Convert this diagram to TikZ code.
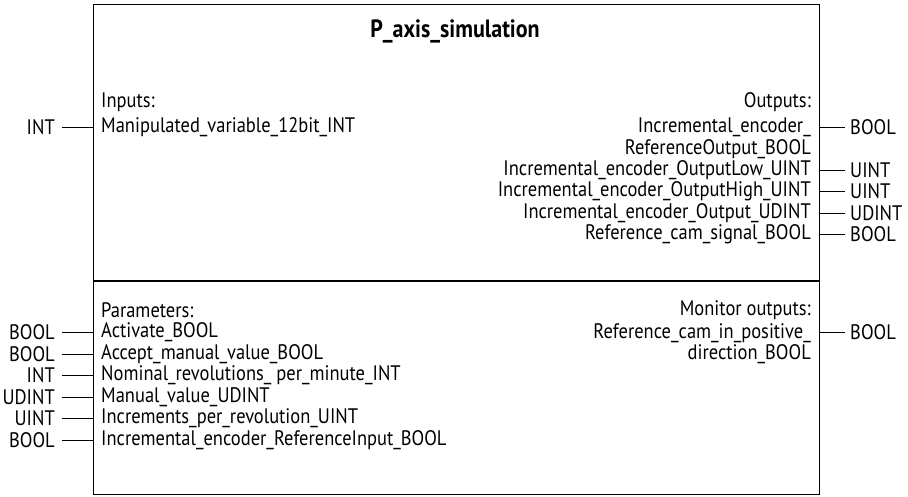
\documentclass[tikz,border=0pt]{standalone}
\usepackage{fontspec}
\setmainfont[FakeStretch=0.88]{PT Sans}
\begin{document}
\begin{tikzpicture}[x=1pt,y=-1pt,
  every node/.style={font=\fontsize{21}{21.5}\selectfont, inner sep=0pt},
  lbl/.style={anchor=west, align=left},
  rlbl/.style={anchor=east, align=right},
  stub/.style={line width=0.9pt},
  boxline/.style={line width=1.1pt}]
\useasboundingbox (0,0) rectangle (908,496);
% box
\draw[boxline] (93.5,4.3) rectangle (819.5,494.3);
\draw[boxline] (93.5,281) -- (819.5,281);
\node[font=\fontsize{25}{28}\selectfont\bfseries] (title) at (455,31) {P\_axis\_simulation};
% top section
\node[lbl] (inputs) at (101,102) {Inputs:};
\node[lbl] (in1) at (101,127) {Manipulated\_variable\_12bit\_INT};
\node[rlbl] (outputs) at (811,102) {Outputs:};
\node[rlbl, anchor=north east] (o1) at (811,118) {Incremental\_encoder\_\\ReferenceOutput\_BOOL};
\node[rlbl] (o2) at (811,170) {Incremental\_encoder\_OutputLow\_UINT};
\node[rlbl] (o3) at (811,191.5) {Incremental\_encoder\_OutputHigh\_UINT};
\node[rlbl] (o4) at (811,213) {Incremental\_encoder\_Output\_UDINT};
\node[rlbl] (o5) at (811,234.5) {Reference\_cam\_signal\_BOOL};
% bottom section
\node[lbl] (params) at (101,310) {Parameters:};
\node[lbl] (p1) at (101,332.5) {Activate\_BOOL};
\node[lbl] (p2) at (101,354) {Accept\_manual\_value\_BOOL};
\node[lbl] (p3) at (101,375.5) {Nominal\_revolutions\_ per\_minute\_INT};
\node[lbl] (p4) at (101,397) {Manual\_value\_UDINT};
\node[lbl] (p5) at (101,418.5) {Increments\_per\_revolution\_UINT};
\node[lbl] (p6) at (101,440) {Incremental\_encoder\_ReferenceInput\_BOOL};
\node[rlbl] (monitor) at (811,310) {Monitor outputs:};
\node[rlbl, anchor=north east] (m1) at (811,323) {Reference\_cam\_in\_positive\_\\direction\_BOOL};
% left stubs
\foreach \n/\t/\y in {a/INT/127, b/BOOL/332.5, c/BOOL/354, d/INT/375.5, e/UDINT/397, f/UINT/418.5, g/BOOL/440}{
  \coordinate (L\n) at (93.5,\y);
  \node[anchor=east] (T\n) at (55,\y) {\t};
  \draw[stub] (L\n) -- ++(-31.5,0);
}
% right stubs
\foreach \n/\t/\y in {a/BOOL/127, b/UINT/170, c/UINT/191.5, d/UDINT/213, e/BOOL/234.5, f/BOOL/332.5}{
  \coordinate (R\n) at (819.5,\y);
  \node[anchor=west] (U\n) at (850,\y) {\t};
  \draw[stub] (R\n) -- ++(25,0);
}
\end{tikzpicture}
\end{document}
